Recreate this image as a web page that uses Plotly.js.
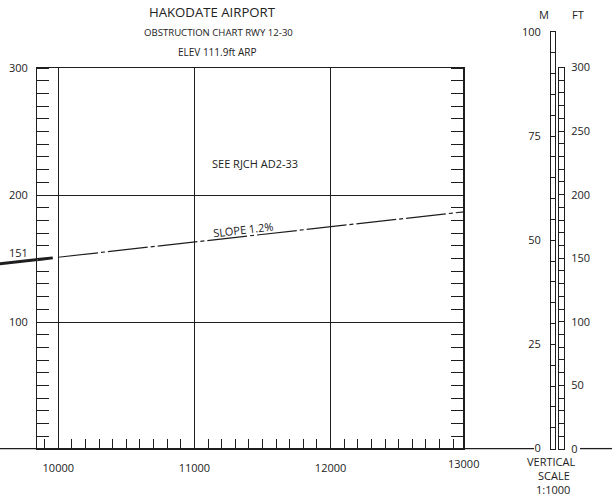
<!DOCTYPE html>
<html><head><meta charset="utf-8">
<script src="https://cdn.plot.ly/plotly-3.0.1.min.js"></script>
<style>html,body{margin:0;padding:0;background:#fff}#chart{width:612px;height:499px}</style>
</head><body><div id="chart"></div>
<script>
// ---- data ----
const slopeX = [10000, 13000];
const slopeY = [151, 187];
const approachX = [9500, 9960];
const approachY = [145, 150.5];
const xTickVals = [10000, 11000, 12000];
const xTickText = ['10000', '11000', '12000'];
const yTickVals = [0, 100, 200, 300];
const yTickText = ['', '100', '200', '300'];
const mTickVals = [0, 25, 50, 75, 100];
const ftTickVals = [0, 50, 100, 150, 200, 250, 300];

const W = 612, H = 499;
const px = v => v / W;
const py = v => 1 - v / H;
const FONT = 'Open Sans, Noto Sans, sans-serif';
const INK = '#1e1e1e';
const TXT = '#222';

const traces = [
  {x: slopeX, y: slopeY, xaxis: 'x', yaxis: 'y', mode: 'lines', type: 'scatter',
   line: {color: INK, width: 1.2, dash: '40px,3px,4px,3px'}, hoverinfo: 'skip'},
  {x: approachX, y: approachY, xaxis: 'x', yaxis: 'y', mode: 'lines', type: 'scatter',
   line: {color: INK, width: 3}, hoverinfo: 'skip'},
  {x: approachX, y: approachY, xaxis: 'x2', yaxis: 'y5', mode: 'lines', type: 'scatter',
   line: {color: INK, width: 3}, hoverinfo: 'skip'},
  {x: [], y: [], xaxis: 'x3', yaxis: 'y3', type: 'scatter', mode: 'lines'},
  {x: [], y: [], xaxis: 'x4', yaxis: 'y4', type: 'scatter', mode: 'lines'}
];

const annotations = [
  {text: 'OBSTRUCTION CHART RWY 12-30', xref: 'paper', yref: 'paper', x: px(218), y: py(33),
   xanchor: 'center', yanchor: 'middle', showarrow: false, font: {size: 9.6, color: TXT}},
  {text: 'ELEV 111.9ft ARP', xref: 'paper', yref: 'paper', x: px(217), y: py(52),
   xanchor: 'center', yanchor: 'middle', showarrow: false, font: {size: 10, color: TXT}},
  {text: 'SEE RJCH AD2-33', xref: 'x', yref: 'y', x: 11445, y: 225,
   xanchor: 'center', yanchor: 'middle', showarrow: false, font: {size: 11, color: TXT}},
  {text: 'SLOPE 1.2%', xref: 'x', yref: 'y', x: 11357, y: 172.5, textangle: -6.5,
   xanchor: 'center', yanchor: 'middle', showarrow: false, font: {size: 11, color: TXT}},
  {text: '151', xref: 'paper', yref: 'y', x: px(29.5), y: 151, yshift: 5,
   xanchor: 'right', yanchor: 'middle', showarrow: false, font: {size: 11, color: TXT}},
  {text: '13000', xref: 'x', yref: 'paper', x: 12975, y: py(463),
   xanchor: 'center', yanchor: 'middle', showarrow: false, font: {size: 11, color: TXT}},
  {text: 'M', xref: 'paper', yref: 'paper', x: px(543.5), y: py(14),
   xanchor: 'center', yanchor: 'middle', showarrow: false, font: {size: 11, color: TXT}},
  {text: 'FT', xref: 'paper', yref: 'paper', x: px(577.5), y: py(14),
   xanchor: 'center', yanchor: 'middle', showarrow: false, font: {size: 11, color: TXT}},
  {text: 'VERTICAL', xref: 'paper', yref: 'paper', x: px(551), y: py(461),
   xanchor: 'center', yanchor: 'middle', showarrow: false, font: {size: 11, color: TXT}},
  {text: 'SCALE', xref: 'paper', yref: 'paper', x: px(554), y: py(475),
   xanchor: 'center', yanchor: 'middle', showarrow: false, font: {size: 11, color: TXT}},
  {text: '1:1000', xref: 'paper', yref: 'paper', x: px(552.5), y: py(489),
   xanchor: 'center', yanchor: 'middle', showarrow: false, font: {size: 11, color: TXT}}
];

const shapes = [
  {type: 'line', xref: 'paper', yref: 'paper', x0: 0, x1: px(534), y0: py(448.6), y1: py(448.6),
   line: {color: INK, width: 1.3}},
  {type: 'line', xref: 'paper', yref: 'paper', x0: px(580), x1: 1, y0: py(448.6), y1: py(448.6),
   line: {color: INK, width: 1.3}}
];

const layout = {
  width: W, height: H,
  margin: {l: 0, r: 0, t: 0, b: 0},
  paper_bgcolor: '#fff', plot_bgcolor: 'rgba(0,0,0,0)',
  font: {family: FONT, color: TXT, size: 11},
  showlegend: false,
  title: {text: 'HAKODATE AIRPORT', x: px(212), y: py(12), xanchor: 'center', yanchor: 'middle',
          xref: 'paper', yref: 'paper', font: {size: 13.2, color: TXT, family: FONT}},
  xaxis: {
    domain: [px(37.3), px(463.3)], range: [9846, 12975], anchor: 'y',
    tickmode: 'array', tickvals: xTickVals, ticktext: xTickText,
    ticks: '', showgrid: true, gridcolor: INK, gridwidth: 1,
    showline: true, linecolor: INK, linewidth: 1.3, mirror: true, zeroline: false,
    ticklabelstandoff: 8, tickfont: {size: 11, color: TXT},
    minor: {tickmode: 'linear', tick0: 0, dtick: 100, ticks: 'inside', ticklen: 10,
            tickcolor: INK, tickwidth: 1, showgrid: false},
    fixedrange: true
  },
  xaxis2: {domain: [0, px(37.3)], range: [9572, 9846], anchor: 'y5', visible: false,
           showgrid: false, zeroline: false, fixedrange: true},
  yaxis5: {domain: [py(449), py(68)], range: [0, 300], anchor: 'x2', visible: false,
           showgrid: false, zeroline: false, fixedrange: true},
  yaxis: {
    domain: [py(449), py(68)], range: [0, 300], anchor: 'x',
    tickmode: 'array', tickvals: yTickVals, ticktext: yTickText,
    ticks: '', showgrid: true, gridcolor: INK, gridwidth: 1,
    showline: true, linecolor: INK, linewidth: 1.3, mirror: 'allticks', zeroline: false,
    ticklabelstandoff: 6, tickfont: {size: 11, color: TXT},
    minor: {tickmode: 'linear', tick0: 0, dtick: 10, ticks: 'inside', ticklen: 12,
            tickcolor: INK, tickwidth: 1, showgrid: false},
    fixedrange: true
  },
  xaxis3: {domain: [px(551), px(555.3)], range: [0, 1], anchor: 'y3',
           showline: true, mirror: true, linecolor: INK, linewidth: 1,
           ticks: '', showticklabels: false, showgrid: false, zeroline: false, fixedrange: true},
  yaxis3: {domain: [py(448.6), py(32)], range: [0, 100], anchor: 'x3', side: 'left',
           showline: true, mirror: true, linecolor: INK, linewidth: 1,
           tickmode: 'array', tickvals: mTickVals, ticks: 'inside', ticklen: 4.3, tickcolor: INK,
           ticklabelstandoff: 7, tickfont: {size: 11, color: TXT},
           minor: {tickmode: 'linear', tick0: 0, dtick: 5, ticks: 'inside', ticklen: 4.3, tickcolor: INK, showgrid: false},
           showgrid: false, zeroline: false, fixedrange: true},
  xaxis4: {domain: [px(559.3), px(564)], range: [0, 1], anchor: 'y4',
           showline: true, mirror: true, linecolor: INK, linewidth: 1,
           ticks: '', showticklabels: false, showgrid: false, zeroline: false, fixedrange: true},
  yaxis4: {domain: [py(449), py(67.5)], range: [0, 300], anchor: 'x4', side: 'right',
           showline: true, mirror: true, linecolor: INK, linewidth: 1,
           tickmode: 'array', tickvals: ftTickVals, ticks: 'inside', ticklen: 4.7, tickcolor: INK,
           ticklabelstandoff: 4, tickfont: {size: 11, color: TXT},
           minor: {tickmode: 'linear', tick0: 0, dtick: 10, ticks: 'inside', ticklen: 4.7, tickcolor: INK, showgrid: false},
           showgrid: false, zeroline: false, fixedrange: true},
  annotations: annotations,
  shapes: shapes
};

Plotly.newPlot('chart', traces, layout, {displayModeBar: false, staticPlot: true});
</script>
</body></html>
